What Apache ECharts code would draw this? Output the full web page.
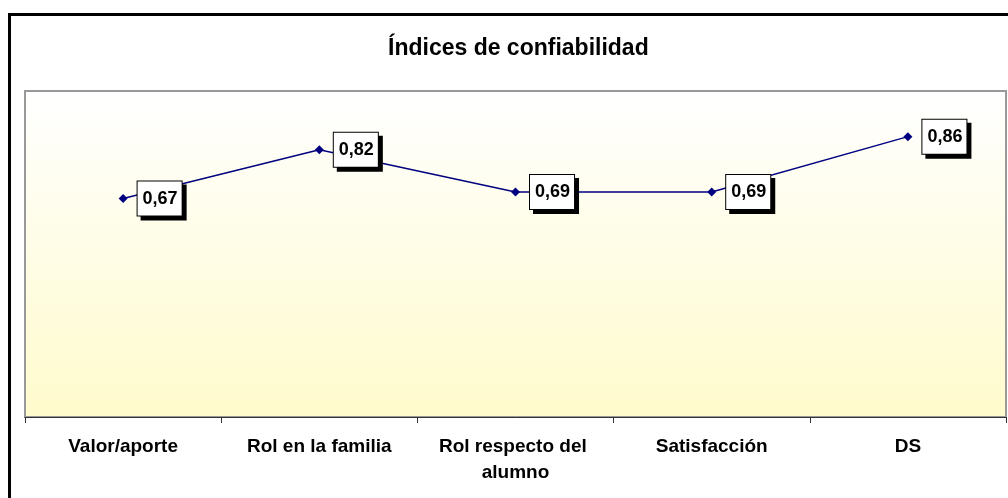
<!DOCTYPE html>
<html>
<head>
    <meta charset="utf-8">
    <script src="https://cdn.jsdelivr.net/npm/echarts@6/dist/echarts.min.js"></script>
    <style>
        html, body { margin: 0; padding: 0; background: #fff; }
        #main { width: 1008px; height: 498px; }
    </style>
</head>
<body>
<div id="main"></div>
<script type="text/javascript">
    // categorias y valores
    var categorias = ['Valor/aporte', 'Rol en la familia', 'Rol respecto del alumno', 'Satisfacción', 'DS'];
    var indices = [0.67, 0.82, 0.69, 0.69, 0.86];
    var titulo = 'Índices de confiabilidad';

    var myChart = echarts.init(document.getElementById('main'));

    var option = {
        animation: false,
        textStyle: { fontFamily: 'Liberation Sans, Arial, sans-serif' },
        title: {
            text: titulo,
            left: 383,
            top: 32,
            textStyle: { fontSize: 23, fontWeight: 'bold', color: '#000' }
        },
        // marco exterior (solo se ven arriba e izquierda)
        graphic: [{
            type: 'rect',
            shape: { x: 9.5, y: 14.5, width: 1200, height: 700 },
            style: { fill: 'none', stroke: '#000', lineWidth: 3 },
            silent: true
        }],
        grid: {
            left: 25,
            top: 91,
            right: 2,
            bottom: 81,
            show: true,
            borderColor: '#999',
            borderWidth: 2,
            backgroundColor: new echarts.graphic.LinearGradient(0, 0, 0, 1, [
                { offset: 0, color: '#ffffff' },
                { offset: 1, color: '#fffbcc' }
            ])
        },
        xAxis: {
            type: 'category',
            data: categorias,
            boundaryGap: true,
            axisLine: { lineStyle: { color: '#333', width: 1 } },
            axisTick: { show: true, length: 6, lineStyle: { color: '#333' } },
            axisLabel: {
                interval: 0,
                margin: 17,
                fontSize: 19,
                fontWeight: 'bold',
                color: '#000',
                lineHeight: 26,
                width: 185,
                overflow: 'break'
            }
        },
        yAxis: {
            type: 'value',
            min: 0,
            max: 1,
            show: false,
            splitLine: { show: false }
        },
        series: [{
            type: 'line',
            data: indices,
            symbol: 'diamond',
            symbolSize: 9,
            itemStyle: { color: '#000080' },
            lineStyle: { color: '#000080', width: 1.5 },
            label: {
                show: true,
                position: 'right',
                distance: 10,
                formatter: function (p) { return p.value.toFixed(2).replace('.', ','); },
                fontSize: 18,
                fontWeight: 'bold',
                color: '#000',
                backgroundColor: '#fff',
                borderColor: '#000',
                borderWidth: 1,
                padding: [8, 4, 8, 5],
                shadowColor: '#000',
                shadowOffsetX: 4,
                shadowOffsetY: 4,
                shadowBlur: 0
            }
        }]
    };
    myChart.setOption(option);
</script>
</body>
</html>
